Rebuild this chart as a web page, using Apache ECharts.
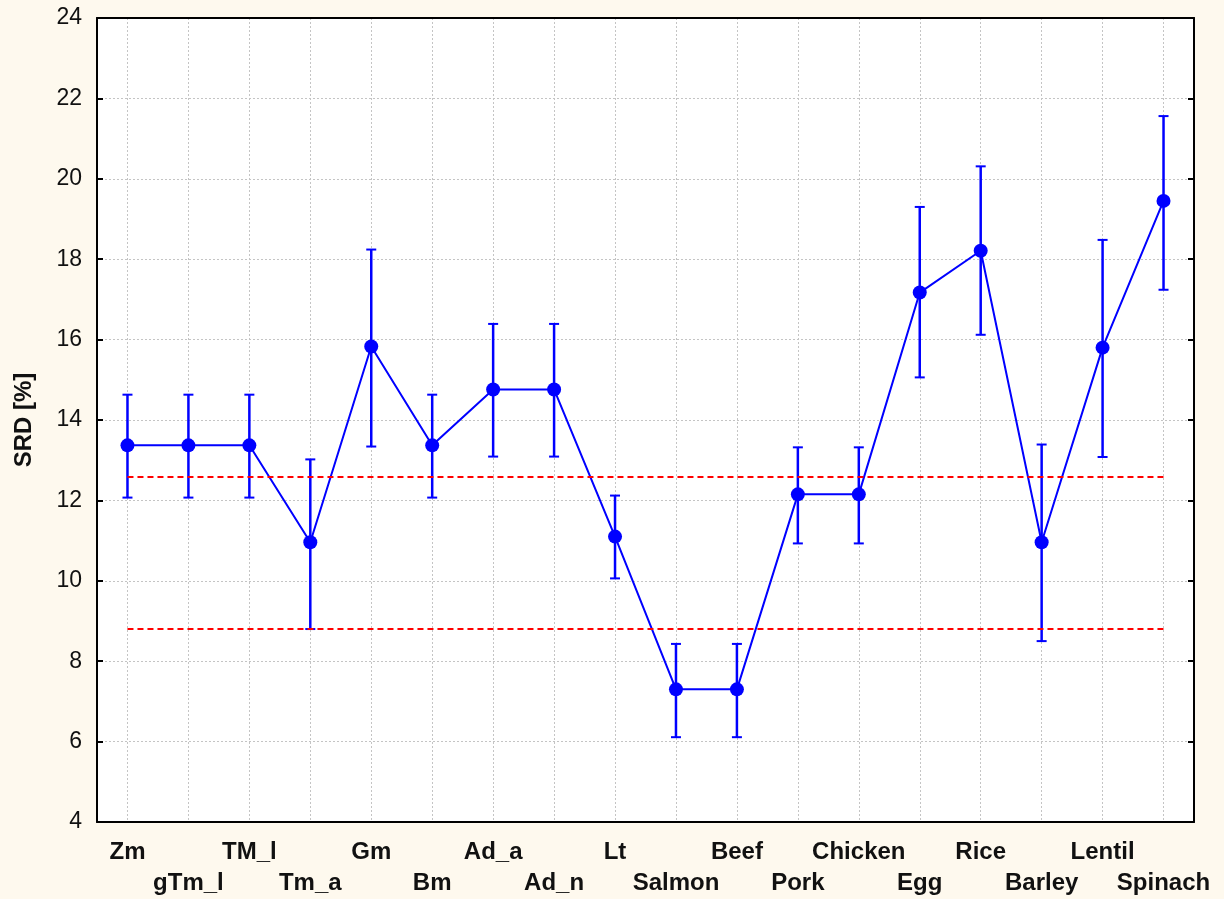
<!DOCTYPE html>
<html>
<head>
<meta charset="utf-8">
<script src="https://cdn.jsdelivr.net/npm/echarts@6/dist/echarts.min.js"></script>
<style>
  html, body { margin: 0; padding: 0; background: #fef9ee; }
  #chart { width: 1224px; height: 899px; }
</style>
</head>
<body>
<div id="chart"></div>
<script>
// datos
const categorias = ["Zm", "gTm_l", "TM_l", "Tm_a", "Gm", "Bm", "Ad_a", "Ad_n", "Lt",
  "Salmon", "Beef", "Pork", "Chicken", "Egg", "Rice", "Barley", "Lentil", "Spinach"];
const media = [13.37, 13.37, 13.37, 10.96, 15.83, 13.37, 14.76, 14.76, 11.1,
  7.3, 7.3, 12.15, 12.15, 17.17, 18.21, 10.96, 15.8, 19.45];
const inferior = [12.07, 12.07, 12.07, 8.8, 13.34, 12.07, 13.09, 13.09, 10.06,
  6.11, 6.11, 10.93, 10.93, 15.06, 16.12, 8.5, 13.08, 17.24];
const superior = [14.63, 14.63, 14.63, 13.02, 18.24, 14.63, 16.39, 16.39, 12.12,
  8.43, 8.43, 13.32, 13.32, 19.3, 20.31, 13.39, 18.48, 21.56];
const lineasRef = [12.6, 8.8];

const fuente = "'Liberation Sans', Arial, sans-serif";
const azul = "#0000ff";
const gris = "#c4c4c4";

const barras = categorias.map((c, i) => [i, inferior[i], superior[i]]);

const chart = echarts.init(document.getElementById("chart"));
chart.setOption({
  backgroundColor: "#fef9ee",
  animation: false,
  grid: {
    left: 97, right: 30, top: 18, bottom: 75,
    show: true, backgroundColor: "#ffffff", borderWidth: 0,
  },
  xAxis: [
    {
      type: "category",
      data: categorias,
      boundaryGap: true,
      axisLine: { lineStyle: { color: "#000", width: 2 } },
      axisTick: { inside: true, alignWithLabel: true, length: 6, lineStyle: { color: "#000", width: 2 } },
      axisLabel: {
        interval: 0,
        margin: 15,
        fontFamily: fuente,
        fontWeight: "bold",
        fontSize: 24,
        color: "#111",
        lineHeight: 31,
        formatter: (v, i) => (i % 2 === 1 ? "\n" + v : v),
      },
      splitLine: {
        show: true,
        alignWithLabel: true,
        lineStyle: { color: gris, type: [2, 2], width: 1 },
      },
    },
    {
      type: "category",
      data: categorias,
      position: "top",
      boundaryGap: true,
      axisLine: { lineStyle: { color: "#000", width: 2 } },
      axisTick: { inside: true, alignWithLabel: true, length: 6, lineStyle: { color: "#000", width: 2 } },
      axisLabel: { show: false },
      splitLine: { show: false },
    },
  ],
  yAxis: [
    {
      type: "value",
      min: 4, max: 24, interval: 2,
      name: "SRD [%]",
      nameLocation: "middle",
      nameRotate: 90,
      nameGap: 61,
      nameTextStyle: { fontFamily: fuente, fontWeight: "bold", fontSize: 24, color: "#111" },
      axisLine: { show: true, lineStyle: { color: "#000", width: 2 } },
      axisTick: { show: true, inside: true, length: 6, lineStyle: { color: "#000", width: 2 } },
      axisLabel: { margin: 15, fontFamily: fuente, fontSize: 23, color: "#111" },
      splitLine: { show: true, lineStyle: { color: gris, type: [2, 2], width: 1 } },
    },
    {
      type: "value",
      min: 4, max: 24, interval: 2,
      position: "right",
      axisLine: { show: true, lineStyle: { color: "#000", width: 2 } },
      axisTick: { show: true, inside: true, length: 6, lineStyle: { color: "#000", width: 2 } },
      axisLabel: { show: false },
      splitLine: { show: false },
    },
  ],
  series: [
    {
      name: "Error",
      type: "custom",
      z: 3,
      data: barras,
      renderItem: (params, api) => {
        const x = api.value(0);
        const lo = api.coord([x, api.value(1)]);
        const hi = api.coord([x, api.value(2)]);
        const w = 5;
        const tapa = { stroke: azul, lineWidth: 2 };
        return {
          type: "group",
          children: [
            { type: "line", shape: { x1: lo[0], y1: lo[1], x2: hi[0], y2: hi[1] }, style: { stroke: azul, lineWidth: 2.5 } },
            { type: "line", shape: { x1: hi[0] - w, y1: hi[1], x2: hi[0] + w, y2: hi[1] }, style: tapa },
            { type: "line", shape: { x1: lo[0] - w, y1: lo[1], x2: lo[0] + w, y2: lo[1] }, style: tapa },
          ],
        };
      },
    },
    {
      name: "SRD",
      type: "line",
      z: 4,
      data: media,
      symbol: "circle",
      symbolSize: 14,
      itemStyle: { color: azul },
      lineStyle: { color: azul, width: 2 },
      markLine: {
        silent: true,
        symbol: "none",
        label: { show: false },
        lineStyle: { color: "#ff0000", type: [6, 4], width: 1.8 },
        data: lineasRef.map((v) => [
          { coord: [0, v] },
          { coord: [categorias.length - 1, v] },
        ]),
      },
    },
  ],
});
</script>
</body>
</html>
